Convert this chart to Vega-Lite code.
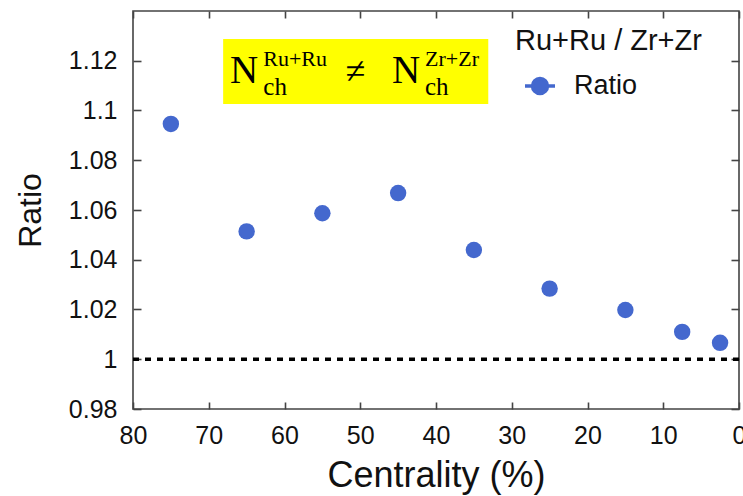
{
  "$schema": "https://vega.github.io/schema/vega-lite/v6.json",
  "width": 606,
  "height": 398,
  "autosize": {"type": "none"},
  "padding": {"left": 133, "top": 11, "right": 4, "bottom": 87},
  "background": "white",
  "config": {
    "font": "Liberation Sans",
    "view": {"stroke": "#444", "strokeWidth": 1.6},
    "axis": {
      "grid": false,
      "domain": false,
      "ticks": true,
      "tickColor": "#444",
      "tickWidth": 1.6,
      "tickOpacity": 1,
      "zindex": 2,
      "labelColor": "#111",
      "titleColor": "#111",
      "labelFont": "Liberation Sans",
      "titleFont": "Liberation Sans",
      "titleFontWeight": "normal",
      "labelFlush": false
    }
  },
  "datasets": {
    "points": [
      {"centrality": 75, "ratio": 1.0946, "series": "Ratio"},
      {"centrality": 65, "ratio": 1.0514, "series": "Ratio"},
      {"centrality": 55, "ratio": 1.0587, "series": "Ratio"},
      {"centrality": 45, "ratio": 1.0668, "series": "Ratio"},
      {"centrality": 35, "ratio": 1.0439, "series": "Ratio"},
      {"centrality": 25, "ratio": 1.0284, "series": "Ratio"},
      {"centrality": 15, "ratio": 1.0198, "series": "Ratio"},
      {"centrality": 7.5, "ratio": 1.011, "series": "Ratio"},
      {"centrality": 2.5, "ratio": 1.0066, "series": "Ratio"}
    ],
    "unity": [{"ratio": 1}],
    "box": [{"centrality": 68.1, "centrality_end": 33.1, "ratio": 1.1287, "ratio_end": 1.1026}],
    "bigN": [
      {"centrality": 67.2, "ratio": 1.1111, "txt": "N"},
      {"centrality": 45.8, "ratio": 1.1111, "txt": "N"}
    ],
    "sup": [
      {"centrality": 62.8, "ratio": 1.1179, "txt": "Ru+Ru"},
      {"centrality": 41.45, "ratio": 1.1179, "txt": "Zr+Zr"}
    ],
    "sub": [
      {"centrality": 62.8, "ratio": 1.1062, "txt": "ch"},
      {"centrality": 41.45, "ratio": 1.1062, "txt": "ch"}
    ],
    "neq": [{"centrality": 50.6, "ratio": 1.1111, "txt": "≠"}]
  },
  "layer": [
    {
      "data": {"name": "box"},
      "mark": {"type": "rect", "color": "#ffff00"},
      "encoding": {
        "x": {"field": "centrality", "type": "quantitative", "axis": null, "scale": {"domain": [0, 80], "reverse": true, "nice": false, "zero": false}},
        "x2": {"field": "centrality_end"},
        "y": {"field": "ratio", "type": "quantitative", "axis": null, "scale": {"domain": [0.98, 1.14], "nice": false, "zero": false}},
        "y2": {"field": "ratio_end"}
      }
    },
    {
      "data": {"name": "bigN"},
      "mark": {"type": "text", "font": "Liberation Serif", "fontSize": 39, "align": "left", "baseline": "alphabetic", "color": "#000"},
      "encoding": {
        "x": {"field": "centrality", "type": "quantitative", "axis": null},
        "y": {"field": "ratio", "type": "quantitative", "axis": null},
        "text": {"field": "txt"}
      }
    },
    {
      "data": {"name": "sup"},
      "mark": {"type": "text", "font": "Liberation Serif", "fontSize": 22, "align": "left", "baseline": "alphabetic", "color": "#000"},
      "encoding": {
        "x": {"field": "centrality", "type": "quantitative", "axis": null},
        "y": {"field": "ratio", "type": "quantitative", "axis": null},
        "text": {"field": "txt"}
      }
    },
    {
      "data": {"name": "sub"},
      "mark": {"type": "text", "font": "Liberation Serif", "fontSize": 25, "align": "left", "baseline": "alphabetic", "color": "#000"},
      "encoding": {
        "x": {"field": "centrality", "type": "quantitative", "axis": null},
        "y": {"field": "ratio", "type": "quantitative", "axis": null},
        "text": {"field": "txt"}
      }
    },
    {
      "data": {"name": "neq"},
      "mark": {"type": "text", "font": "Liberation Serif", "fontSize": 36, "align": "center", "baseline": "alphabetic", "color": "#000"},
      "encoding": {
        "x": {"field": "centrality", "type": "quantitative", "axis": null},
        "y": {"field": "ratio", "type": "quantitative", "axis": null},
        "text": {"field": "txt"}
      }
    },
    {
      "data": {"name": "unity"},
      "mark": {"type": "rule", "color": "#000", "strokeWidth": 3.5, "strokeDash": [6, 6]},
      "encoding": {
        "y": {"field": "ratio", "type": "quantitative", "axis": null}
      }
    },
    {
      "data": {"name": "points"},
      "mark": {"type": "point", "filled": true, "size": 270, "opacity": 1},
      "encoding": {
        "x": {
          "field": "centrality",
          "type": "quantitative",
          "title": "Centrality (%)",
          "axis": {
            "orient": "bottom",
            "values": [0, 10, 20, 30, 40, 50, 60, 70, 80],
            "offset": -7,
            "tickSize": 7,
            "labelFontSize": 25,
            "labelPadding": 14,
            "titleFontSize": 36,
            "titlePadding": 10
          }
        },
        "y": {
          "field": "ratio",
          "type": "quantitative",
          "title": "Ratio",
          "axis": {
            "orient": "left",
            "values": [0.98, 1, 1.02, 1.04, 1.06, 1.08, 1.1, 1.12],
            "format": "~g",
            "offset": -8,
            "tickSize": 8,
            "labelFontSize": 25,
            "labelPadding": 16,
            "titleFontSize": 32,
            "titlePadding": 21
          }
        },
        "color": {
          "field": "series",
          "type": "nominal",
          "scale": {"range": ["#4468ce"]},
          "legend": {
            "title": "Ru+Ru / Zr+Zr",
            "orient": "none",
            "legendX": 382,
            "legendY": 16,
            "padding": 0,
            "titleFontSize": 29,
            "titleFontWeight": "normal",
            "titleColor": "#111",
            "titleLimit": 400,
            "titlePadding": 13,
            "labelFontSize": 27,
            "labelColor": "#111",
            "labelOffset": 17,
            "symbolType": "M-1,0H1M-0.5,0A0.5,0.5,0,1,1,0.5,0A0.5,0.5,0,1,1,-0.5,0Z",
            "symbolSize": 900,
            "symbolStrokeWidth": 3.5,
            "symbolStrokeColor": "#4468ce",
            "symbolFillColor": "#4468ce",
            "symbolOffset": 8
          }
        }
      }
    },
    {
      "data": {"name": "points"},
      "mark": {"type": "point", "opacity": 0},
      "encoding": {
        "x": {
          "field": "centrality",
          "type": "quantitative",
          "axis": {"orient": "top", "offset": -7, "tickSize": 7, "labels": false, "values": [0, 10, 20, 30, 40, 50, 60, 70, 80], "title": null}
        },
        "y": {
          "field": "ratio",
          "type": "quantitative",
          "axis": {"orient": "right", "offset": -8, "tickSize": 8, "labels": false, "values": [0.98, 1, 1.02, 1.04, 1.06, 1.08, 1.1, 1.12], "title": null}
        }
      }
    }
  ],
  "resolve": {"axis": {"x": "independent", "y": "independent"}}
}
